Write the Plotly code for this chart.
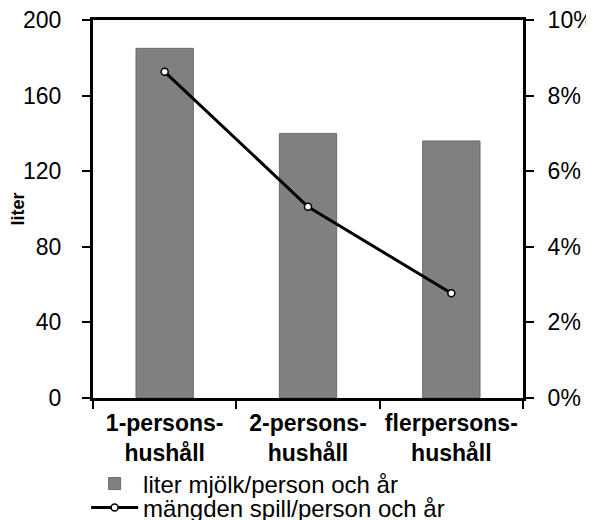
import plotly.graph_objects as go

categories = ["1-persons-<br>hushåll", "2-persons-<br>hushåll", "flerpersons-<br>hushåll"]
liter_values = [185, 140, 136]
spill_values = [8.63, 5.06, 2.77]
left_ticks = [0, 40, 80, 120, 160, 200]
right_ticks = [0, 2, 4, 6, 8, 10]
right_tick_labels = ["0%", "2%", "4%", "6%", "8%", "10%"]
boundary_ticks = [-0.5, 0.5, 1.5, 2.5]
bar_name = "liter mjölk/person och år"
line_name = "mängden spill/person och år"

FONT = "Liberation Sans, Arial, sans-serif"

fig = go.Figure()
fig.add_trace(go.Bar(
    x=categories, y=liter_values, name=bar_name,
    marker=dict(color="#808080", line=dict(color="#6a6a6a", width=1)),
    width=0.4, yaxis="y", legend="legend",
))
fig.add_trace(go.Scatter(
    x=categories, y=spill_values, name=line_name, mode="lines+markers",
    line=dict(color="black", width=3),
    marker=dict(symbol="circle", size=7, color="white", line=dict(color="black", width=1.5)),
    yaxis="y2", legend="legend2",
))

tick_common = dict(ticklen=8, tickwidth=2, tickcolor="black", showgrid=False, zeroline=False)

fig.update_layout(
    width=586, height=512,
    margin=dict(l=85, r=71, t=12, b=122, autoexpand=False),
    paper_bgcolor="white", plot_bgcolor="white",
    font=dict(family=FONT, color="black"),
    xaxis=dict(
        type="category", range=[-0.5, 2.5], tickson="boundaries", ticks="outside",
        showline=True, linecolor="black", linewidth=3, mirror=True,
        ticklabelstandoff=2, ticklabeloverflow="allow",
        tickfont=dict(size=23, weight="bold", family=FONT), **tick_common,
    ),
    xaxis2=dict(
        overlaying="x", anchor="y", range=[-0.5, 2.5], tickvals=boundary_ticks,
        ticks="inside", showticklabels=False, showline=False, **tick_common,
    ),
    yaxis=dict(
        range=[0, 200], tickvals=left_ticks, ticks="outside",
        showline=True, linecolor="black", linewidth=3,
        ticklabelstandoff=16, ticklabeloverflow="allow",
        tickfont=dict(size=23, family=FONT),
        title=dict(text="liter", font=dict(size=18, weight="bold", family=FONT), standoff=2),
        **tick_common,
    ),
    yaxis3=dict(
        overlaying="y", anchor="x", range=[0, 200], tickvals=left_ticks, ticks="inside",
        showticklabels=False, showline=False, **tick_common,
    ),
    yaxis2=dict(
        overlaying="y", side="right", anchor="x", range=[0, 10], tickvals=right_ticks,
        ticktext=right_tick_labels, ticks="outside",
        showline=True, linecolor="black", linewidth=3,
        ticklabelstandoff=9, ticklabeloverflow="allow",
        tickfont=dict(size=23, family=FONT), **tick_common,
    ),
    yaxis4=dict(
        overlaying="y", side="right", anchor="x", range=[0, 10], tickvals=right_ticks,
        ticks="inside", showticklabels=False, showline=False, **tick_common,
    ),
    legend=dict(
        x=-0.016, y=-0.2275, xanchor="left", yanchor="middle", itemwidth=47,
        font=dict(size=24, family=FONT), bgcolor="rgba(0,0,0,0)", borderwidth=0,
        tracegroupgap=0,
    ),
    legend2=dict(
        x=-0.016, y=-0.291, xanchor="left", yanchor="middle", itemwidth=47,
        font=dict(size=24, family=FONT), bgcolor="rgba(0,0,0,0)", borderwidth=0,
        tracegroupgap=0,
    ),
    showlegend=True,
)

fig.write_html("out.html")
